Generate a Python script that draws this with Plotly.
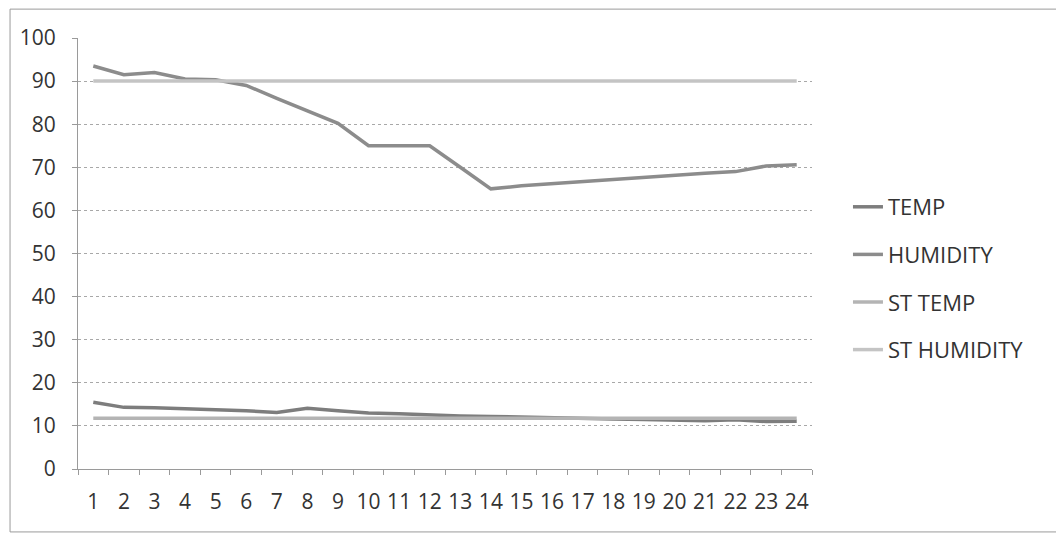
import plotly.graph_objects as go

hours = list(range(1, 25))
temp = [15.5, 14.3, 14.2, 14.0, 13.7, 13.5, 13.1, 14.1, 13.5, 13.0, 12.8, 12.5,
        12.3, 12.2, 12.0, 11.8, 11.6, 11.6, 11.5, 11.3, 11.2, 11.4, 11.0, 11.1]
humidity = [93.5, 91.5, 92.0, 90.5, 90.3, 89.0, 86.0, 83.2, 80.2, 75.0, 75.0, 75.0,
            70.0, 65.0, 65.7, 66.2, 66.7, 67.3, 67.8, 68.3, 68.6, 69.0, 70.3, 70.6]
st_temp = [11.8] * 24
st_humidity = [90.0] * 24
y_ticks = [0, 10, 20, 30, 40, 50, 60, 70, 80, 90, 100]

series = [
    ("TEMP", temp, "#7d7d7d"),
    ("HUMIDITY", humidity, "#8c8c8c"),
    ("ST TEMP", st_temp, "#b4b4b4"),
    ("ST HUMIDITY", st_humidity, "#c4c4c4"),
]

fig = go.Figure()
for name, vals, col in series:
    fig.add_trace(go.Scatter(x=hours, y=vals, name=name, mode="lines",
                             legendgroup=name,
                             line=dict(color=col, width=3.5)))

font = dict(family="Open Sans, Liberation Sans, sans-serif", size=21, color="#333333")

fig.update_layout(
    width=1064, height=535,
    margin=dict(l=70, r=260, t=30, b=74),
    paper_bgcolor="white", plot_bgcolor="white",
    font=font,
    showlegend=True,
    legend=dict(x=1.049, y=0.442, xanchor="left", yanchor="middle",
                font=dict(family="Open Sans, Liberation Sans, sans-serif",
                          size=22, color="#333333"),
                tracegroupgap=16,
                bgcolor="rgba(0,0,0,0)"),
    xaxis=dict(range=[0.5, 24.5], tickmode="array", tickvals=hours,
               ticktext=[str(h) for h in hours],
               showgrid=False, zeroline=False,
               showline=True, linecolor="#9a9a9a", linewidth=1,
               ticks="", ticklen=0, ticklabelstandoff=14,
               minor=dict(ticks="outside", tick0=0.5, dtick=1, ticklen=5,
                          tickcolor="#9a9a9a", showgrid=False),
               tickfont=font),
    yaxis=dict(range=[0, 100], tickmode="array", tickvals=y_ticks,
               showgrid=True, gridcolor="#a8a8a8", griddash="dot", gridwidth=1,
               zeroline=False,
               showline=True, linecolor="#9a9a9a", linewidth=1,
               ticks="outside", ticklen=5, tickcolor="#9a9a9a",
               ticklabelstandoff=12,
               tickfont=font),
)

fig.add_shape(type="rect", xref="paper", yref="paper",
              x0=-0.0926, x1=1.5, y0=-0.146, y1=1.067,
              line=dict(color="#9a9a9a", width=1), fillcolor="rgba(0,0,0,0)",
              layer="below")

fig.write_html("out.html")
